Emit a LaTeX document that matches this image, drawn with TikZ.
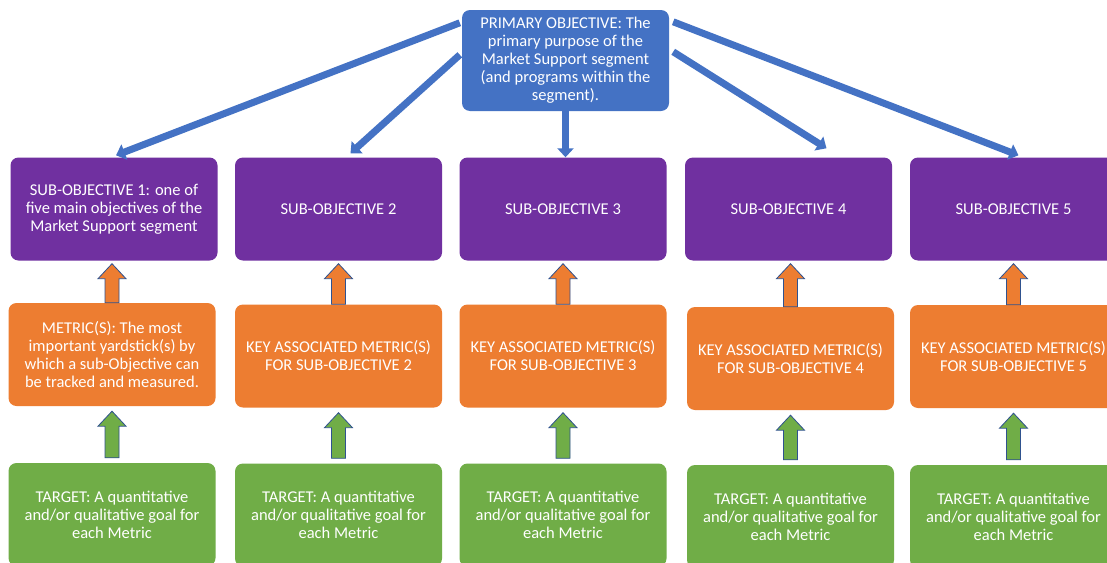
\documentclass[tikz,border=0pt]{standalone}
\usepackage{fontspec}
\setmainfont{Carlito}
\usetikzlibrary{arrows.meta,calc}
\definecolor{cblue}{HTML}{4472C4}
\definecolor{cpurple}{HTML}{7030A0}
\definecolor{corange}{HTML}{ED7D31}
\definecolor{cgreen}{HTML}{70AD47}
\definecolor{cedge}{HTML}{2F528F}
\newcommand\blockup[5]{% #1 lower node, #2 upper node, #3 fill, #4 top gap, #5 bottom gap
  \path[draw=cedge, line width=0.8pt, fill=#3]
    let \p1=(#1.north), \p2=(#2.south) in
    (\x1-7pt,\y1+#5) -- (\x1-7pt,\y2-#4-15pt) -- (\x1-14pt,\y2-#4-15pt) --
    (\x1,\y2-#4) -- (\x1+14pt,\y2-#4-15pt) -- (\x1+7pt,\y2-#4-15pt) --
    (\x1+7pt,\y1+#5) -- cycle;}
\begin{document}
\begin{tikzpicture}[x=1pt,y=-1pt,
  box/.style={rounded corners=8pt, text=white, align=center, inner sep=2pt,
    minimum width=207pt, minimum height=103pt,
    font=\fontsize{16.5}{18}\selectfont},
  pbox/.style={box, fill=cpurple},
  obox/.style={box, fill=corange},
  gbox/.style={box, fill=cgreen},
  bluearrow/.style={draw=cblue, line width=7pt,
    -{Triangle[width=16pt,length=9pt]}}]
\clip (0,0) rectangle (1107,562);
\fill[white] (0,0) rectangle (1107,562);

\node[box, fill=cblue, minimum height=101pt] (prim) at (565.5,60.5)
  {PRIMARY OBJECTIVE: The\\primary purpose of the\\Market Support segment\\(and programs within the\\segment).};

\node[pbox] (sub1) at (114,209) {SUB-OBJECTIVE 1: one of\\five main objectives of the\\Market Support segment};
\node[pbox] (sub2) at (338.5,209) {SUB-OBJECTIVE 2};
\node[pbox] (sub3) at (563,209) {SUB-OBJECTIVE 3};
\node[pbox] (sub4) at (788.5,209) {SUB-OBJECTIVE 4};
\node[pbox] (sub5) at (1013.5,209) {SUB-OBJECTIVE 5};

\node[obox] (met1) at (112,354.5) {METRIC(S): The most\\important yardstick(s) by\\which a sub-Objective can\\be tracked and measured.};
\node[obox] (met2) at (338.5,356) {KEY ASSOCIATED METRIC(S)\\FOR SUB-OBJECTIVE 2};
\node[obox] (met3) at (563,356) {KEY ASSOCIATED METRIC(S)\\FOR SUB-OBJECTIVE 3};
\node[obox] (met4) at (790.5,358.5) {KEY ASSOCIATED METRIC(S)\\FOR SUB-OBJECTIVE 4};
\node[obox] (met5) at (1013.5,356.5) {KEY ASSOCIATED METRIC(S)\\FOR SUB-OBJECTIVE 5};

\node[gbox] (tgt1) at (112,514.5) {TARGET: A quantitative\\and/or qualitative goal for\\each Metric};
\node[gbox] (tgt2) at (338.5,515) {TARGET: A quantitative\\and/or qualitative goal for\\each Metric};
\node[gbox] (tgt3) at (563,515) {TARGET: A quantitative\\and/or qualitative goal for\\each Metric};
\node[gbox] (tgt4) at (790.5,516.5) {TARGET: A quantitative\\and/or qualitative goal for\\each Metric};
\node[gbox] (tgt5) at (1013.5,516.5) {TARGET: A quantitative\\and/or qualitative goal for\\each Metric};

% blue connectors from the primary objective
\draw[bluearrow] ($(prim.north west)+(-2,13)$) -- ($(sub1.north)+(2,-2)$);
\draw[bluearrow] ($(prim.north west)+(-2,45)$) -- ($(sub2.north)+(12,-4)$);
\draw[bluearrow] (prim.south) -- (prim.south |- sub3.north);
\draw[bluearrow] ($(prim.north east)+(4,42)$) -- ($(sub4.north)+(38,-9)$);
\draw[bluearrow] ($(prim.north east)+(4,12)$) -- ($(sub5.north)+(5,-2)$);

% block arrows
\foreach \i in {1,...,5}{
  \blockup{met\i}{sub\i}{corange}{3pt}{0pt}
  \blockup{tgt\i}{met\i}{cgreen}{5pt}{5pt}
}
\end{tikzpicture}
\end{document}
